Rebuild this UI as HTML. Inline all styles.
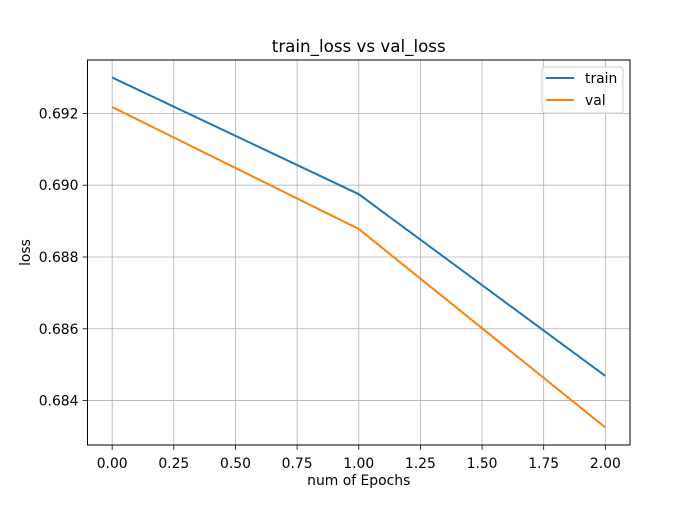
<!DOCTYPE html>
<html><head><meta charset="utf-8"><style>
body{margin:0;background:#fff;}
svg text{font-family:"DejaVu Sans","Liberation Sans",sans-serif;fill:#000;}
</style></head><body>
<svg id="c" width="700" height="500" xmlns="http://www.w3.org/2000/svg"></svg>
<script>
const epochs=[0,1,2];
const trainLoss=[0.6930,0.68975,0.684685];
const valLoss=[0.692178,0.68878,0.68325];
const xTicks=[0,0.25,0.5,0.75,1,1.25,1.5,1.75,2];
const xTickLabels=["0.00","0.25","0.50","0.75","1.00","1.25","1.50","1.75","2.00"];
const yTicks=[0.684,0.686,0.688,0.690,0.692];
const yTickLabels=["0.684","0.686","0.688","0.690","0.692"];

const svg=document.getElementById('c');
const NS='http://www.w3.org/2000/svg';
const L=87.5,R=630,T=60,B=445;
const xmin=Math.min(...epochs),xmax=Math.max(...epochs),xm=(xmax-xmin)*0.05;
const all=trainLoss.concat(valLoss);
const ymin=Math.min(...all),ymax=Math.max(...all),ym=(ymax-ymin)*0.05;
const x0=xmin-xm,x1=xmax+xm,y0=ymin-ym,y1=ymax+ym;
const sx=v=>L+(v-x0)/(x1-x0)*(R-L);
const sy=v=>B-(v-y0)/(y1-y0)*(B-T);
function mk(tag,attrs,parent){const e=document.createElementNS(NS,tag);for(const k in attrs)e.setAttribute(k,attrs[k]);(parent||svg).appendChild(e);return e;}

const grid=mk('g',{});


xTicks.forEach((t,i)=>{
  const x=sx(t);
  mk('line',{x1:x,x2:x,y1:T,y2:B,stroke:'#b0b0b0','stroke-width':0.8},grid);
  mk('line',{x1:x,x2:x,y1:B,y2:B+4.9,stroke:'#000','stroke-width':0.8});
  const tx=mk('text',{x:x,y:B+23,'font-size':13.9,'text-anchor':'middle'});
  tx.textContent=xTickLabels[i];
  
  
});
yTicks.forEach((t,i)=>{
  const y=sy(t);
  mk('line',{x1:L,x2:R,y1:y,y2:y,stroke:'#b0b0b0','stroke-width':0.8},grid);
  mk('line',{x1:L-4.9,x2:L,y1:y,y2:y,stroke:'#000','stroke-width':0.8});
  const tx=mk('text',{x:L-9,y:y+5,'font-size':13.9,'text-anchor':'end'});
  tx.textContent=yTickLabels[i];
  
  
});
function series(vals,color,name){
  const p=mk('polyline',{points:epochs.map((e,i)=>sx(e)+','+sy(vals[i])).join(' '),fill:'none',stroke:color,'stroke-width':2});
  
  
}
series(trainLoss,'#1f77b4','train-line');
series(valLoss,'#ff7f0e','val-line');
const fr=mk('rect',{x:L,y:T,width:R-L,height:B-T,fill:'none',stroke:'#000','stroke-width':1});



const lg=mk('g',{});


mk('rect',{x:542,y:67,width:81,height:46,rx:3,fill:'#fff','fill-opacity':0.8,stroke:'#ccc','stroke-width':1},lg);
mk('line',{x1:546,x2:574,y1:78,y2:78,stroke:'#1f77b4','stroke-width':2},lg);
mk('line',{x1:546,x2:574,y1:100,y2:100,stroke:'#ff7f0e','stroke-width':2},lg);
const t1=mk('text',{x:585,y:83,'font-size':13.9},lg);t1.textContent='train';


const t2=mk('text',{x:585,y:105,'font-size':13.9},lg);t2.textContent='val';



const title=mk('text',{x:(L+R)/2,y:52,'font-size':16.7,'text-anchor':'middle'});
title.textContent='train_loss vs val_loss';


const xl=mk('text',{x:(L+R)/2,y:485,'font-size':13.9,'text-anchor':'middle'});
xl.textContent='num of Epochs';


const yl=mk('text',{x:30,y:(T+B)/2,'font-size':13.9,'text-anchor':'middle',transform:'rotate(-90 30 '+((T+B)/2)+')'});
yl.textContent='loss';


</script>
</body></html>
